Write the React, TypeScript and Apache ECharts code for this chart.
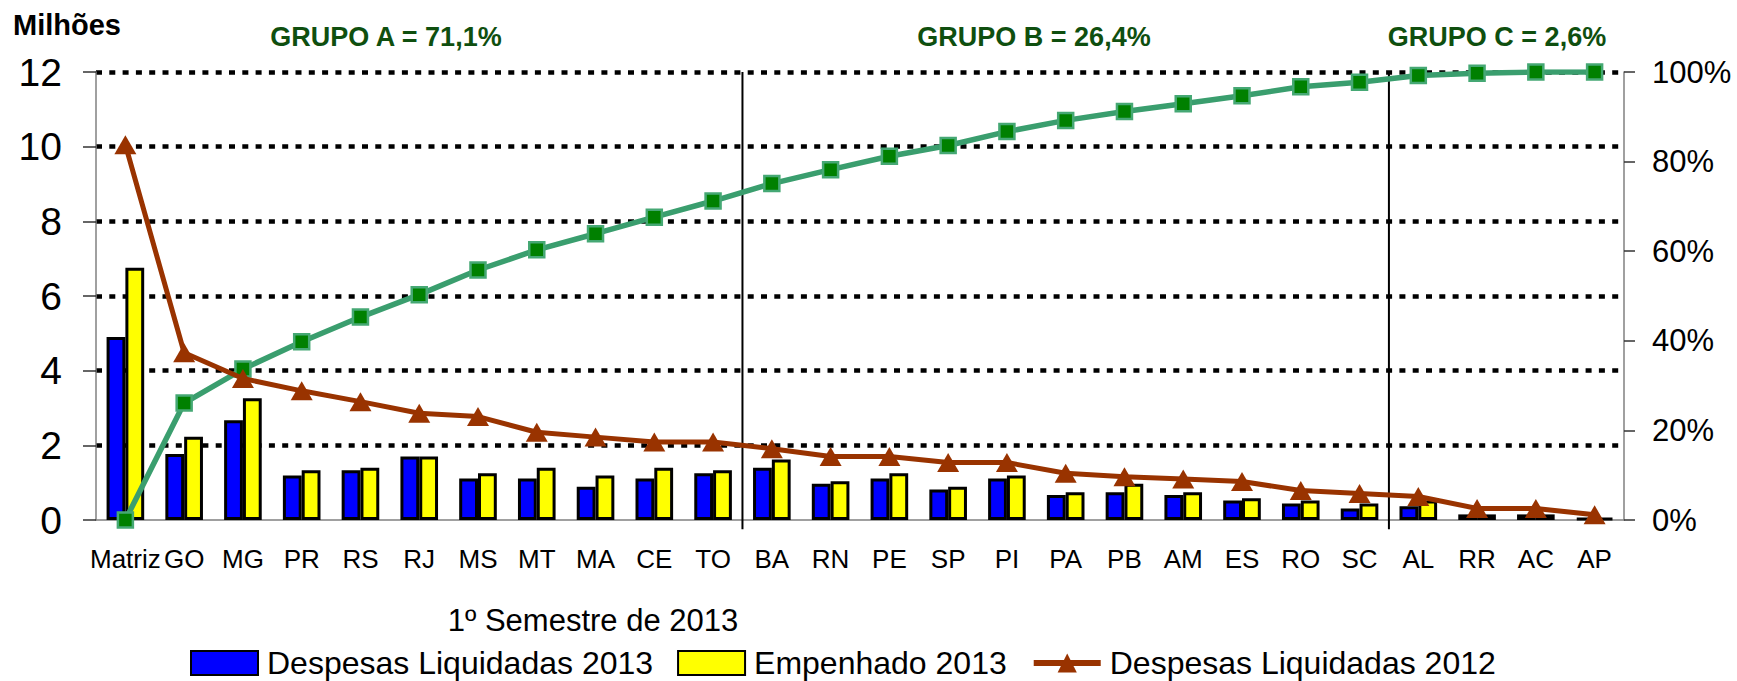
import React, { useEffect, useRef } from 'react';
import * as echarts from 'echarts';

const categories = ['Matriz', 'GO', 'MG', 'PR', 'RS', 'RJ', 'MS', 'MT', 'MA', 'CE', 'TO', 'BA', 'RN', 'PE', 'SP', 'PI', 'PA', 'PB', 'AM', 'ES', 'RO', 'SC', 'AL', 'RR', 'AC', 'AP'];

const liquidadas2013 = [4.90, 1.77, 2.67, 1.19, 1.33, 1.70, 1.11, 1.11, 0.89, 1.11, 1.25, 1.40, 0.97, 1.11, 0.82, 1.11, 0.67, 0.74, 0.67, 0.52, 0.44, 0.31, 0.37, 0.15, 0.15, 0.05];
const empenhado2013 = [6.76, 2.23, 3.26, 1.33, 1.40, 1.70, 1.25, 1.40, 1.19, 1.40, 1.33, 1.62, 1.04, 1.25, 0.89, 1.19, 0.74, 0.97, 0.74, 0.58, 0.52, 0.44, 0.52, 0.15, 0.15, 0.05];
const liquidadas2012 = [10.05, 4.48, 3.79, 3.46, 3.17, 2.86, 2.77, 2.35, 2.22, 2.09, 2.09, 1.91, 1.70, 1.70, 1.54, 1.54, 1.25, 1.16, 1.10, 1.03, 0.79, 0.71, 0.63, 0.31, 0.31, 0.14];
const acumulado = [0, 26.1, 33.7, 39.8, 45.3, 50.3, 55.8, 60.3, 63.9, 67.6, 71.2, 75.1, 78.2, 81.2, 83.6, 86.7, 89.2, 91.2, 92.9, 94.7, 96.7, 97.7, 99.2, 99.7, 100, 100];

const groupLabels = ['GRUPO A = 71,1%', 'GRUPO B = 26,4%', 'GRUPO C = 2,6%'];
const groupSizes = [11, 11, 4];
const leftTicks = [0, 12, 2];
const rightTicks = [0, 100, 20];

const FONT = "'Liberation Sans', Arial, sans-serif";

export default function App() {
  const ref = useRef<HTMLDivElement>(null);

  useEffect(() => {
    const chart = echarts.init(ref.current!, null, { renderer: 'svg' });

    // category boundaries between groups
    const boundaries: number[] = [];
    let acc = 0;
    for (let i = 0; i < groupSizes.length - 1; i++) {
      acc += groupSizes[i];
      boundaries.push(acc - 0.5);
    }

    const separatorSeries = boundaries.map((b, i) => ({
      name: 'sep' + i,
      type: 'line',
      xAxisIndex: 1,
      yAxisIndex: 0,
      data: [[b, -0.25], [b, 12]],
      symbol: 'none',
      clip: false,
      silent: true,
      lineStyle: { color: '#000', width: 2 },
      z: 3,
    }));

    const groupX = [386, 1034, 1497];

    chart.setOption({
      animation: false,
      backgroundColor: '#fff',
      grid: { left: 96, right: 113, top: 72, bottom: 161 },
      legend: {
        data: [
          { name: 'Despesas Liquidadas 2013', icon: 'rect' },
          { name: 'Empenhado 2013', icon: 'rect' },
          { name: 'Despesas Liquidadas 2012', lineStyle: { width: 6 } },
        ],
        left: 185,
        top: 642,
        itemWidth: 67,
        itemHeight: 24,
        itemGap: 24,
        selectedMode: false,
        textStyle: { fontSize: 32, fontFamily: FONT, color: '#000', padding: [0, 0, 0, 4] },
      },
      xAxis: [
        {
          type: 'category',
          data: categories,
          axisLine: { show: true, onZero: false, lineStyle: { color: '#808080', width: 1.5 } },
          axisTick: { show: false },
          axisLabel: { fontSize: 26, fontFamily: FONT, color: '#000', margin: 26, interval: 0 },
        },
        {
          type: 'value',
          min: -0.5,
          max: categories.length - 0.5,
          show: false,
        },
      ],
      yAxis: [
        {
          type: 'value',
          min: leftTicks[0],
          max: leftTicks[1],
          interval: leftTicks[2],
          axisLine: { show: true, onZero: false, lineStyle: { color: '#808080', width: 1.5 } },
          axisTick: { show: true, length: 13, lineStyle: { color: '#333', width: 1.5 } },
          axisLabel: { fontSize: 39, fontFamily: FONT, color: '#000', margin: 34 },
          splitLine: { show: true, showMinLine: false, lineStyle: { color: '#000', width: 4.5, type: [6, 7.3] } },
        },
        {
          type: 'value',
          min: rightTicks[0],
          max: rightTicks[1],
          interval: rightTicks[2],
          position: 'right',
          axisLine: { show: true, onZero: false, lineStyle: { color: '#808080', width: 1.5 } },
          axisTick: { show: true, length: 11, lineStyle: { color: '#333', width: 1.5 } },
          axisLabel: { fontSize: 31, fontFamily: FONT, color: '#000', margin: 28, formatter: '{value}%' },
          splitLine: { show: false },
        },
      ],
      graphic: [
        {
          type: 'text',
          left: 13,
          top: 10,
          style: { text: 'Milhões', font: `bold 29px ${FONT}`, fill: '#000' },
        },
        ...groupLabels.map((t, i) => ({
          type: 'text',
          x: groupX[i],
          y: 37,
          style: { text: t, font: `bold 27px ${FONT}`, fill: '#0f4f0f', align: 'center', verticalAlign: 'middle' },
        })),
        {
          type: 'text',
          x: 593,
          y: 620,
          style: { text: '1º Semestre de 2013', font: `31px ${FONT}`, fill: '#000', align: 'center', verticalAlign: 'middle' },
        },
      ],
      series: [
        {
          name: 'Despesas Liquidadas 2013',
          type: 'bar',
          data: liquidadas2013,
          barGap: '0%',
          barCategoryGap: '36%',
          itemStyle: { color: '#0000ff', borderColor: '#000', borderWidth: 3 },
          z: 2,
        },
        {
          name: 'Empenhado 2013',
          type: 'bar',
          data: empenhado2013,
          itemStyle: { color: '#ffff00', borderColor: '#000', borderWidth: 3 },
          z: 2,
        },
        ...separatorSeries,
        {
          name: 'Acumulado',
          type: 'line',
          yAxisIndex: 1,
          data: acumulado,
          symbol: 'rect',
          symbolSize: 15,
          lineStyle: { color: '#3a9e6e', width: 5.5 },
          itemStyle: { color: '#008000', borderColor: '#45a874', borderWidth: 2.5 },
          z: 4,
        },
        {
          name: 'Despesas Liquidadas 2012',
          type: 'line',
          data: liquidadas2012,
          symbol: 'triangle',
          symbolSize: [22, 19],
          lineStyle: { color: '#993300', width: 5 },
          itemStyle: { color: '#993300' },
          z: 5,
        },
      ],
    });

    return () => chart.dispose();
  }, []);

  return <div ref={ref} style={{ position: 'absolute', left: 0, top: 0, width: 1737, height: 681 }} />;
}
